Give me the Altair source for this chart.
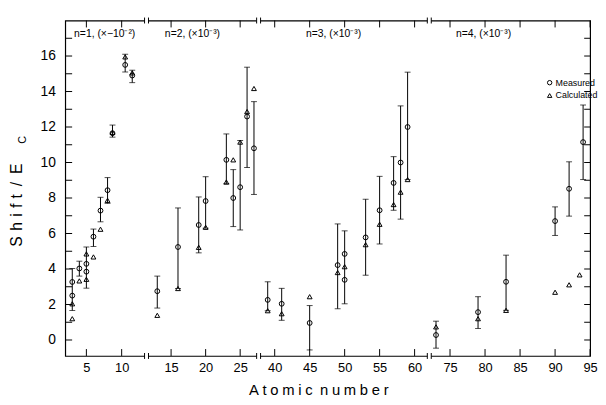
import altair as alt
import pandas as pd

FONT = "Liberation Sans"

# ---------------- data ----------------
# Measured values (circles) with error bars (None = no separate bar)
m_z = [3, 3, 4, 5, 5, 6, 7, 8, 8.7, 10.5, 11.5,
       13, 16, 19, 20, 23, 24, 25, 26, 27,
       39, 41, 45, 49, 50, 50, 53, 55, 57, 58, 59,
       73, 79, 83, 90, 92, 94]
m_val = [3.27, 2.50, 4.03, 4.29, 3.85, 5.82, 7.29, 8.44, 11.65, 15.5, 14.9,
         2.75, 5.24, 6.48, 7.83, 10.15, 8.0, 8.61, 12.59, 10.8,
         2.26, 2.04, 0.96, 4.22, 4.85, 3.39, 5.78, 7.31, 8.85, 10.0, 12.0,
         0.28, 1.57, 3.28, 6.7, 8.52, 11.15]
m_lo = [1.66, None, 3.60, 2.92, None, 5.27, 6.66, 7.70, 11.43, 15.1, 14.5,
        1.8, 2.9, 4.91, 6.3, 8.8, 6.39, 6.2, 9.72, 8.2,
        1.65, 1.11, -0.56, 1.76, 2.04, None, 3.65, 5.41, 7.31, 6.81, 9.04,
        -0.46, 0.65, 1.67, 5.89, 6.98, 9.04]
m_hi = [4.03, None, 4.44, 5.24, None, 6.25, 8.04, 9.15, 12.11, 16.1, 15.2,
        3.6, 7.44, 8.06, 9.2, 11.61, 9.6, 11.24, 15.37, 13.43,
        3.28, 2.91, 1.94, 6.54, 6.15, None, 7.93, 9.22, 10.33, 13.19, 15.09,
        1.06, 2.44, 4.78, 7.5, 10.04, 13.24]

# Calculated values (triangles)
c_z = [3, 3, 4, 5, 5, 6, 7, 8, 8.7, 10.5, 11.5,
       13, 16, 19, 20, 23, 24, 25, 26, 27,
       39, 41, 45, 49, 50, 53, 55, 57, 58, 59,
       73, 79, 83, 90, 92, 93.5]
c_val = [2.04, 1.20, 3.33, 4.85, 3.42, 4.68, 6.24, 7.87, 11.7, 15.95, 15.05,
         1.39, 2.9, 5.22, 6.35, 8.9, 10.15, 11.15, 12.87, 14.17,
         1.65, 1.48, 2.44, 3.8, 4.13, 5.37, 6.52, 7.63, 8.33, 9.04,
         0.74, 1.2, 1.67, 2.69, 3.11, 3.67]

# broken x axis: piecewise scale domain (atomic number) and labelled ticks
x_tick_vals = [5, 10, 15, 20, 25, 40, 45, 50, 55, 60, 75, 80, 85, 90, 95]
y_tick_vals = list(range(0, 18))
y_label_vals = [0, 2, 4, 6, 8, 10, 12, 14, 16]
break_vals = [12.5, 32, 67]

shell_labels = ["n=1, (×−10⁻²)", "n=2, (×10⁻³)", "n=3, (×10⁻³)", "n=4, (×10⁻³)"]
series_names = ["Measured", "Calculated"]
series_shapes = ["circle", "triangle-up"]

# ---------------- layout ----------------
W, H = 532, 340
x_domain = [2, 12, 13, 27.67, 37.7, 62.1, 72.04, 95]
x_range = [0, 71.5, 93.3, 196, 196, 369, 369, W]

xs = alt.Scale(domain=x_domain, range=x_range, zero=False, nice=False)
ys = alt.Scale(domain=[-0.9, 18], zero=False, nice=False)

x_axis = alt.Axis(values=x_tick_vals, title=None, grid=False, ticks=False, domain=False,
                  labelFontSize=13, labelPadding=6, labelFont=FONT, labelColor="black",
                  labelFlush=False, labelOverlap=False)
y_axis = alt.Axis(values=y_label_vals, title=None, grid=False, ticks=False, domain=False,
                  labelFontSize=14, labelPadding=10, labelFont=FONT, labelColor="black",
                  labelOverlap=False, labelFlush=False)

mdf = pd.DataFrame({"Z": m_z, "val": m_val, "lo": m_lo, "hi": m_hi, "type": "Measured"})
cdf = pd.DataFrame({"Z": c_z, "val": c_val, "type": "Calculated"})
pts = pd.concat([mdf[["Z", "val", "type"]], cdf], ignore_index=True)

X = lambda f: alt.X(f, type="quantitative", scale=xs, axis=x_axis)
Y = lambda f: alt.Y(f, type="quantitative", scale=ys, axis=y_axis)

err = alt.Chart(mdf).transform_filter("isValid(datum.lo)")
bars = err.mark_rule(color="black", strokeWidth=1).encode(x=X("Z"), y=Y("lo"), y2="hi")
cap_lo = err.mark_tick(color="black", orient="horizontal", size=6, thickness=1).encode(x=X("Z"), y=Y("lo"))
cap_hi = err.mark_tick(color="black", orient="horizontal", size=6, thickness=1).encode(x=X("Z"), y=Y("hi"))

points = alt.Chart(pts).mark_point(filled=False, strokeWidth=1, opacity=1, color="black", size=24).encode(
    x=X("Z"), y=Y("val"),
    shape=alt.Shape("type:N", scale=alt.Scale(domain=series_names, range=series_shapes), legend=None),
)

xt = alt.Chart(pd.DataFrame({"v": x_tick_vals}))
yt = alt.Chart(pd.DataFrame({"v": y_tick_vals}))
tick_b = xt.mark_rule(color="black", strokeWidth=1).encode(x=X("v"), y=alt.value(H), y2=alt.value(H - 7))
tick_t = xt.mark_rule(color="black", strokeWidth=1).encode(x=X("v"), y=alt.value(0), y2=alt.value(7))
tick_l = yt.mark_rule(color="black", strokeWidth=1).encode(y=Y("v"), x=alt.value(0), x2=alt.value(7))
tick_r = yt.mark_rule(color="black", strokeWidth=1).encode(y=Y("v"), x=alt.value(W), x2=alt.value(W - 6))

bk = alt.Chart(pd.DataFrame({"b": break_vals}))
brk = []
for yy in (0, H):
    brk.append(bk.mark_rule(color="white", strokeWidth=3, xOffset=-2, x2Offset=2).encode(
        x=X("b"), x2="b", y=alt.value(yy)))
    for off in (-2, 2):
        brk.append(bk.mark_rule(color="black", strokeWidth=1, xOffset=off).encode(
            x=X("b"), y=alt.value(yy - 3), y2=alt.value(yy + 3)))

one = alt.Chart(pd.DataFrame({"a": [0]}))
texts = []
for lbl, px in zip(shell_labels, [9, 101, 244, 396]):
    texts.append(one.mark_text(align="left", baseline="middle", fontSize=10.5, font=FONT, color="black").encode(
        x=alt.value(px), y=alt.value(14), text=alt.value(lbl)))

# legend (drawn as marks)
for i, (nm, shp) in enumerate(zip(series_names, series_shapes)):
    ly = 63 + 13 * i
    texts.append(one.mark_point(filled=False, strokeWidth=1, opacity=1, color="black", size=20, shape=shp).encode(
        x=alt.value(491), y=alt.value(ly)))
    texts.append(one.mark_text(align="left", baseline="middle", fontSize=9, font=FONT, color="black").encode(
        x=alt.value(497), y=alt.value(ly), text=alt.value(nm)))

sp = "\u2005"
xtitle = sp.join("Atomic") + "\u2002" + sp.join("number")
texts.append(one.mark_text(align="center", baseline="middle", fontSize=15, font=FONT, color="black").encode(
    x=alt.value(257), y=alt.value(375), text=alt.value(xtitle)))
sp2 = "\u2004"
ytitle = sp2.join("Shift") + "\u2002/\u2002E"
texts.append(one.mark_text(align="center", baseline="middle", fontSize=16, font=FONT, color="black", angle=270).encode(
    x=alt.value(-49), y=alt.value(187), text=alt.value(ytitle)))
texts.append(one.mark_text(align="center", baseline="middle", fontSize=11, font=FONT, color="black", angle=270).encode(
    x=alt.value(-43), y=alt.value(121), text=alt.value("C")))

chart = alt.layer(
    bars, cap_lo, cap_hi, points, tick_b, tick_t, tick_l, tick_r, *brk, *texts
).properties(
    width=W, height=H,
    background="white",
    autosize=alt.AutoSizeParams(type="none"),
    padding={"left": 58, "top": 10, "right": 8, "bottom": 47},
).configure_view(
    stroke="black", strokeWidth=1.2
)

chart.save("out.html", embed_options={"renderer": "svg", "actions": False})
